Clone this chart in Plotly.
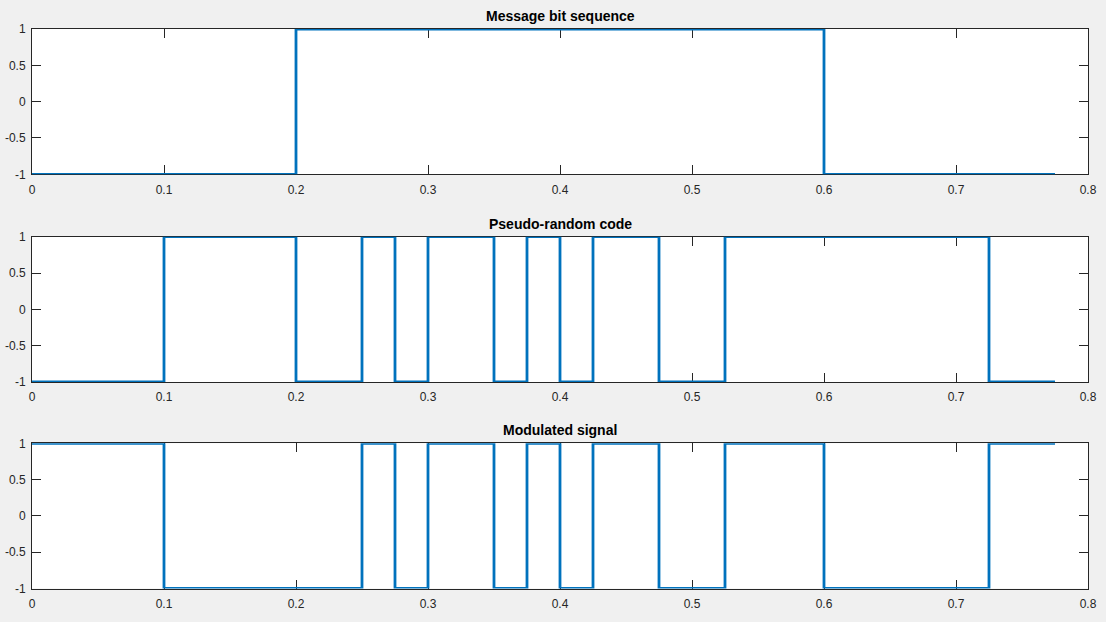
import numpy as np
import plotly.graph_objects as go

# ---- data ----
chip_time = 0.025
chips_per_bit = 8
message_bits = [-1, 1, 1, -1]
pn_code = [-1, -1, -1, -1, 1, 1, 1, 1,
           -1, -1, 1, -1, 1, 1, -1, 1,
           -1, 1, 1, -1, -1, 1, 1, 1,
           1, 1, 1, 1, 1, -1, -1, -1]
titles = ["Message bit sequence", "Pseudo-random code", "Modulated signal"]
x_ticks = [0, 0.1, 0.2, 0.3, 0.4, 0.5, 0.6, 0.7, 0.8]
x_ticklabels = ["0", "0.1", "0.2", "0.3", "0.4", "0.5", "0.6", "0.7", "0.8"]
y_ticks = [-1, -0.5, 0, 0.5, 1]
y_ticklabels = ["-1", "-0.5", "0", "0.5", "1"]

t = np.arange(len(pn_code)) * chip_time
message = np.repeat(message_bits, chips_per_bit)
modulated = message * np.array(pn_code)
series = [message, np.array(pn_code), modulated]

W, H = 1106, 622
left_px, right_px = 32, 1088
y_px = [(29, 174.3), (236.7, 382), (443.3, 588.5)]

fig = go.Figure()
axcol = "#262626"
font_tick = dict(family="Liberation Sans, Arial, sans-serif", size=12, color=axcol)

for i, (ys, (top, bot)) in enumerate(zip(series, y_px)):
    n = "" if i == 0 else str(i + 1)
    fig.add_trace(go.Scatter(
        x=t, y=ys, mode="lines", line=dict(shape="hv", color="#0072BD", width=2.8),
        cliponaxis=False, xaxis="x" + n, yaxis="y" + n, showlegend=False, hoverinfo="skip"))
    dom_y = [1 - bot / H, 1 - top / H]
    dom_x = [left_px / W, right_px / W]
    fig.layout["xaxis" + n] = dict(
        domain=dom_x, anchor="y" + n, range=[0, 0.8], tickvals=x_ticks, ticktext=x_ticklabels,
        ticks="inside", ticklen=9, tickwidth=1, tickcolor=axcol, showline=True, linecolor=axcol,
        linewidth=1, mirror="ticks", showgrid=False, zeroline=False, tickfont=font_tick,
        automargin=False, fixedrange=True, layer="below traces", ticklabelstandoff=4)
    fig.layout["yaxis" + n] = dict(
        domain=dom_y, anchor="x" + n, range=[-1, 1], tickvals=y_ticks, ticktext=y_ticklabels,
        ticks="inside", ticklen=9, tickwidth=1, tickcolor=axcol, showline=True, linecolor=axcol,
        linewidth=1, mirror="ticks", showgrid=False, zeroline=False, tickfont=font_tick,
        automargin=False, fixedrange=True, layer="below traces", ticklabelstandoff=3)
    fig.add_annotation(
        text="<b>" + titles[i] + "</b>", xref="paper", yref="paper",
        x=(left_px + right_px) / 2 / W, y=dom_y[1], xanchor="center", yanchor="bottom",
        yshift=3, showarrow=False,
        font=dict(family="Liberation Sans, Arial, sans-serif", size=14, color="black"))

fig.update_layout(
    width=W, height=H, margin=dict(l=0, r=0, t=0, b=0, autoexpand=False),
    paper_bgcolor="#f0f0f0", plot_bgcolor="white", showlegend=False)

fig.write_html("out.html", config={"displayModeBar": False, "staticPlot": True},
               post_script="document.body.style.margin='0px';")
